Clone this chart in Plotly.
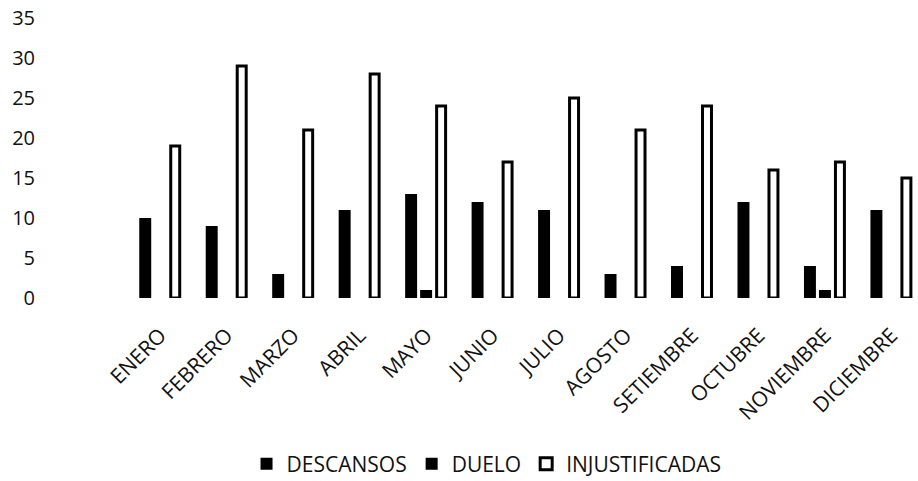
import plotly.graph_objects as go

# Monthly absence counts by type
meses = ["ENERO", "FEBRERO", "MARZO", "ABRIL", "MAYO", "JUNIO", "JULIO",
         "AGOSTO", "SETIEMBRE", "OCTUBRE", "NOVIEMBRE", "DICIEMBRE"]
descansos = [10, 9, 3, 11, 13, 12, 11, 3, 4, 12, 4, 11]
duelo = [0, 0, 0, 0, 1, 0, 0, 0, 0, 0, 1, 0]
injustificadas = [19, 29, 21, 28, 24, 17, 25, 21, 24, 16, 17, 15]
y_ticks = [0, 5, 10, 15, 20, 25, 30, 35]

FONT = "Open Sans"
INK = "#111111"

# per-series bar placement inside each month (category units)
slot = 0.2256
w_solid = 0.18
w_outline = 0.135

fig = go.Figure()
fig.add_trace(go.Bar(
    name="DESCANSOS", x=meses, y=descansos,
    width=w_solid, offset=-slot - w_solid / 2,
    marker=dict(color="#000000", line=dict(width=0)),
))
fig.add_trace(go.Bar(
    name="DUELO", x=meses, y=duelo,
    width=w_solid, offset=-w_solid / 2,
    marker=dict(color="#000000", line=dict(width=0)),
))
fig.add_trace(go.Bar(
    name="INJUSTIFICADAS", x=meses, y=injustificadas,
    width=w_outline, offset=slot - w_outline / 2,
    marker=dict(color="#ffffff", line=dict(color="#000000", width=3)),
))

fig.update_layout(
    width=918, height=481,
    margin=dict(l=127, r=0, t=18, b=183),
    paper_bgcolor="white", plot_bgcolor="white",
    barmode="overlay",
    showlegend=True,
    font=dict(family=FONT, size=20, color=INK),
    legend=dict(
        orientation="h",
        xref="container", yref="container",
        x=0.53, xanchor="center",
        y=0.035, yanchor="middle",
        font=dict(family=FONT, size=21, color=INK),
    ),
    hovermode=False,
)

fig.update_xaxes(
    type="category",
    range=[-0.5, 11.4],
    tickangle=-45,
    tickfont=dict(family=FONT, size=21, color=INK),
    showgrid=False, showline=False, zeroline=False,
    ticks="", ticklabelstandoff=20,
)
fig.update_yaxes(
    range=[0, 35],
    tickvals=y_ticks,
    tickfont=dict(family=FONT, size=20, color=INK),
    showgrid=False, showline=False, zeroline=False,
    ticks="", ticklabelstandoff=91,
)

fig.write_html("out.html")
